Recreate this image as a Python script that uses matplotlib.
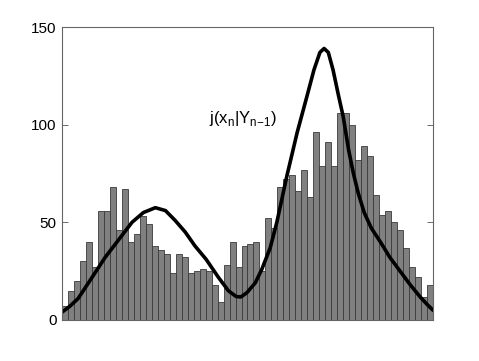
import numpy as np
import matplotlib
matplotlib.use("Agg")
import matplotlib.pyplot as plt

plt.rcParams['font.family'] = ['Liberation Sans', 'DejaVu Sans']

# alturas del histograma (62 clases)
counts = [7, 15, 20, 30, 40, 27, 56, 56, 68, 46,
          67, 40, 44, 53, 49, 38, 36, 34, 24, 34,
          32, 24, 25, 26, 25, 18, 9, 28, 40, 27,
          38, 39, 40, 25, 52, 47, 68, 72, 74, 66,
          77, 63, 96, 79, 91, 79, 106, 106, 100, 82,
          89, 84, 64, 54, 56, 50, 46, 37, 27, 22,
          12, 18]

# curva j(x_n | Y_{n-1}) (posicion en clases, valor)
curve_x = [0.0, 1.3, 2.7, 4.85, 7.2, 9.7, 11.7, 13.6, 15.6, 17.3,
           18.9, 20.6, 22.2, 24.1, 26.1, 27.8, 29.1, 29.9, 30.9, 32.3,
           33.4, 34.8, 35.9, 37.6, 39.3, 40.8, 42.1, 43.1, 43.8, 44.5,
           45.3, 46.2, 47.0, 47.9, 48.7, 49.5, 50.5, 51.7, 53.2, 54.8,
           56.5, 58.2, 59.8, 61.0, 62.0]
curve_y = [4, 7, 11, 21, 32, 42, 50, 55, 57.5, 56,
           51, 45, 38, 31, 22, 15, 12, 11.8, 14, 19,
           26, 37, 50, 74, 96, 113, 128, 137, 139, 137,
           128, 115, 104, 87, 75, 65, 55, 47, 40, 32,
           25, 18, 12, 8, 5]

fig = plt.figure(figsize=(4.79, 3.61), dpi=100)
ax = fig.add_axes([0.1294, 0.1136, 0.7746, 0.8116])

ax.bar(np.arange(len(counts)), counts, width=1.0, align='edge',
       color='#808080', edgecolor='#3a3a3a', linewidth=0.6)
ax.plot(curve_x, curve_y, color='black', linewidth=2.6,
        solid_capstyle='round', solid_joinstyle='round')

ax.text(30.3, 103, r'j(x$_{\mathregular{n}}$|Y$_{\mathregular{n\!-\!1}}$)',
        ha='center', va='center', fontsize=12)

ax.set_xlim(0, len(counts))
ax.set_ylim(0, 150)
ax.set_xticks([])
ax.set_yticks([0, 50, 100, 150])
ax.tick_params(axis='y', direction='in', length=4, width=0.6, color='#555555',
               labelsize=11, right=True, pad=4)
for s in ax.spines.values():
    s.set_color('#666666')
    s.set_linewidth(0.8)

fig.savefig('out.png', dpi=100)
